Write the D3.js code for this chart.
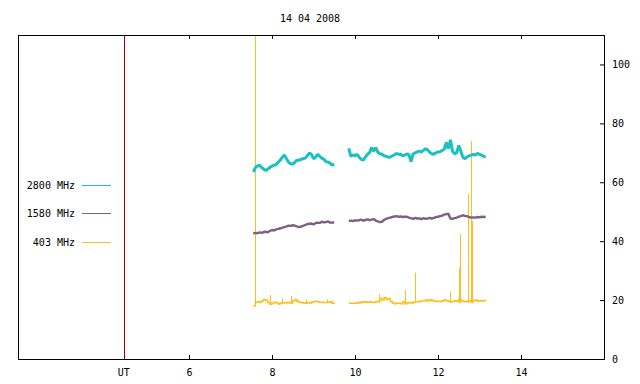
<!DOCTYPE html>
<html><head><meta charset="utf-8">
<script src="https://cdn.jsdelivr.net/npm/d3@7"></script>
<style>body{margin:0;background:#fff}svg{display:block}text{font-family:"DejaVu Sans Mono",monospace;font-size:10px;fill:#000}</style>
</head><body><svg id="c" width="640" height="384"></svg>
<script>
const title = "14 04 2008";
const xTicks = [6, 8, 10, 12, 14];
const yTicks = [0, 20, 40, 60, 80, 100];
const utMarker = 4.43;
const seriesNames = ["2800 MHz", "1580 MHz", "403 MHz"];
const seriesColors = ["#1cc0c0", "#7f5f83", "#fdbf1f"];
const step = 0.05;
const seg1Start = 7.55, seg2Start = 9.85;

const f2800a = [63.5,65.0,65.5,65.8,65.0,64.5,64.0,64.5,65.0,65.5,65.8,66.0,66.8,67.5,68.5,69.2,68.0,66.8,66.3,66.2,66.8,67.5,67.5,67.8,68.0,68.2,69.0,69.9,69.5,68.0,68.5,69.5,68.8,68.2,67.8,67.0,66.9,66.5,65.8,66.2];
const f2800b = [71.5,68.8,69.3,69.0,69.5,68.5,67.8,67.5,68.5,69.5,70.0,71.8,70.5,71.8,70.2,69.7,69.5,69.0,68.8,68.5,68.6,69.0,69.3,69.8,69.5,69.5,69.0,69.2,69.6,69.4,67.0,69.6,70.0,70.3,70.6,70.2,70.8,71.4,71.0,70.2,69.7,69.5,70.0,70.3,70.4,70.8,71.2,73.5,71.4,74.4,70.5,69.7,70.0,72.5,70.5,68.5,68.0,68.6,69.0,69.2,69.5,69.2,69.8,69.5,69.2,68.8,68.6];
const f1580a = [42.6,42.8,42.7,43.0,42.8,43.1,43.2,43.0,43.5,43.8,43.6,44.0,44.2,44.3,44.6,44.8,45.0,45.3,45.2,45.4,45.3,45.0,44.8,44.9,45.2,45.5,45.8,45.9,46.0,45.7,46.1,46.3,46.2,46.6,46.4,46.5,46.7,46.3,46.4,46.3];
const f1580b = [46.9,47.0,46.8,47.1,47.0,47.1,47.3,47.0,47.2,47.4,47.2,47.3,47.5,47.0,46.7,46.5,46.6,47.2,47.6,47.8,48.0,48.2,48.4,48.5,48.3,48.4,48.2,48.3,48.3,48.0,47.8,47.6,47.9,47.7,47.7,47.5,47.8,47.6,47.7,47.9,47.7,47.9,48.2,48.3,48.5,48.7,49.0,49.2,49.3,47.7,47.6,47.8,48.0,48.3,48.5,48.8,48.6,48.5,48.2,48.0,48.1,48.0,48.2,48.1,48.3,48.2,48.3];
const f403a = [18.0,19.2,19.4,19.3,19.8,20.2,19.9,19.2,18.6,19.0,19.3,19.0,18.7,18.9,19.2,19.0,19.2,19.1,19.0,19.8,20.2,19.6,19.3,19.2,19.0,18.9,19.2,19.0,19.3,19.5,19.6,19.4,19.3,19.3,19.2,19.2,19.3,19.4,18.9,18.8];
const f403b = [18.9,18.9,18.9,18.9,19.2,19.0,19.4,19.3,19.4,19.3,19.4,19.3,19.2,19.4,19.6,20.6,20.0,20.8,20.3,20.5,19.5,18.9,18.8,18.9,18.9,18.8,19.4,18.8,19.0,19.2,19.0,19.3,19.4,19.4,19.5,19.8,19.8,20.0,19.7,20.1,19.9,19.6,19.7,19.5,19.5,19.8,20.0,19.8,19.5,19.4,19.6,19.8,19.5,20.4,19.8,19.6,19.4,19.6,19.8,19.4,19.9,20.0,19.6,19.8,19.7,19.9,20.0];
const spike403Times = [7.583,7.952,8.241,8.467,8.812,9.325,10.578,11.205,11.446,12.289,12.506,12.530,12.723,12.795,12.824];
const spike403Values = [115,21.7,20.6,21.4,20.2,20.3,22.0,23.4,29.3,22.7,31.0,42.4,56.0,74.0,47.0];

const svg = d3.select("#c");
const L = 18, R = 604, T = 35, B = 359;
const x = d3.scaleLinear().domain([1.88, 16]).range([L, R]);
const y = d3.scaleLinear().domain([0, 110]).range([B, T]);

svg.append("defs").append("clipPath").attr("id","clip").append("rect")
  .attr("x", L).attr("y", T).attr("width", R - L).attr("height", B - T);

const toPts = (start, vals) => vals.map((v, i) => [start + i * step, v]);
const line = d3.line().x(d => x(d[0])).y(d => y(d[1]));
const g = svg.append("g").attr("clip-path", "url(#clip)");

// red UT marker
g.append("line").attr("x1", Math.round(x(utMarker)) + 0.5).attr("x2", Math.round(x(utMarker)) + 0.5).attr("y1", T).attr("y2", B)
  .attr("stroke", "#990000").attr("stroke-width", 1);

// 403 spikes
spike403Times.forEach((t, i) => {
  const px = Math.round(x(t)) + 0.5;
  g.append("line").attr("x1", px).attr("x2", px)
    .attr("y1", y(19)).attr("y2", y(spike403Values[i]))
    .attr("stroke", seriesColors[2]).attr("stroke-width", 1);
});

const segs = [
  [[seg1Start, f2800a], [seg2Start, f2800b], 0, 3],
  [[seg1Start, f1580a], [seg2Start, f1580b], 1, 2.4],
];
segs.forEach(([a, b, ci, w]) => {
  [a, b].forEach(([s, vals]) => {
    g.append("path").datum(toPts(s, vals)).attr("d", line)
      .attr("fill", "none").attr("stroke", seriesColors[ci]).attr("stroke-width", w)
      .attr("stroke-linejoin", "bevel");
  });
});
const stepLine = d3.line().x(d => x(d[0])).y(d => y(d[1])).curve(d3.curveStepAfter);
[[seg1Start, f403a], [seg2Start, f403b]].forEach(([s, vals]) => {
  g.append("path").datum(toPts(s, vals)).attr("d", stepLine)
    .attr("fill", "none").attr("stroke", seriesColors[2]).attr("stroke-width", 1.5);
});

// frame
svg.append("rect").attr("x", L + 0.5).attr("y", T + 0.5).attr("width", R - L).attr("height", B - T)
  .attr("fill", "none").attr("stroke", "#000").attr("stroke-width", 1);

// x axes (bottom + mirrored top), ticks inward
const xb = svg.append("g").attr("transform", `translate(0,${B})`)
  .call(d3.axisBottom(x).tickValues(xTicks).tickSize(-4).tickPadding(10).tickFormat(d3.format("d")));
const xt = svg.append("g").attr("transform", `translate(0,${T})`)
  .call(d3.axisTop(x).tickValues(xTicks).tickSize(-4).tickFormat(""));
[xb, xt].forEach(a => { a.select(".domain").remove(); a.selectAll("line").attr("stroke", "#000"); });
xb.selectAll("text").attr("font-family", "DejaVu Sans Mono").attr("font-size", 10).attr("dy", "0.71em");
svg.append("text").attr("x", x(utMarker)).attr("y", 376).attr("text-anchor", "middle").text("UT");

// y axis right
const yr = svg.append("g").attr("transform", `translate(${R},0)`)
  .call(d3.axisRight(y).tickValues(yTicks).tickSize(-4).tickPadding(8).tickFormat(d3.format("d")));
yr.select(".domain").remove();
yr.selectAll("line").attr("stroke", "#000");
yr.selectAll("text").attr("font-family", "DejaVu Sans Mono").attr("font-size", 10);

// title
svg.append("text").attr("x", 310).attr("y", 22).attr("text-anchor", "middle").text(title);

// legend
const legY = [185, 213, 242];
seriesNames.forEach((n, i) => {
  svg.append("text").attr("x", 75).attr("y", legY[i] + 3.5).attr("text-anchor", "end").text(n);
  svg.append("line").attr("x1", 82).attr("x2", 111).attr("y1", legY[i] + 0.5).attr("y2", legY[i] + 0.5)
    .attr("stroke", seriesColors[i]).attr("stroke-width", 1);
});
</script></body></html>
